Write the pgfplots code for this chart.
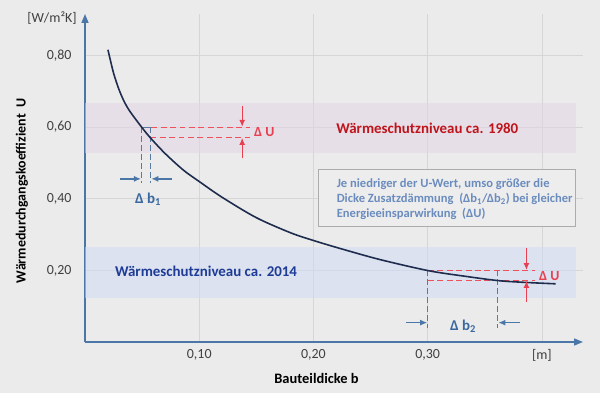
\documentclass[border=0pt]{standalone}
\usepackage{fontspec}
\setmainfont{Carlito}
\usepackage{pgfplots}
\pgfplotsset{compat=1.18}
\usetikzlibrary{arrows.meta}
\definecolor{bg}{RGB}{235,235,235}
\definecolor{pinkband}{RGB}{228,212,228}
\definecolor{blueband}{RGB}{206,218,246}
\definecolor{gridcol}{RGB}{214,214,214}
\definecolor{axiscol}{RGB}{74,118,168}
\definecolor{curvecol}{RGB}{30,44,78}
\definecolor{reddash}{RGB}{240,80,90}
\definecolor{redarr}{RGB}{232,64,80}
\definecolor{bluedash}{RGB}{90,122,160}
\definecolor{dbtext}{RGB}{58,104,160}
\definecolor{red1980}{RGB}{192,20,28}
\definecolor{blue2014}{RGB}{30,60,150}
\definecolor{boxtext}{RGB}{106,140,190}
\definecolor{boxborder}{RGB}{172,172,172}
\definecolor{ticktext}{RGB}{64,64,64}
\begin{document}
\begin{tikzpicture}
\fill[bg] (-85bp,-51bp) rectangle (515bp,342bp);
\begin{axis}[
  at={(0,0)}, anchor=south west,
  scale only axis, width=498bp, height=328bp,
  xmin=0, xmax=0.436, ymin=0, ymax=0.916,
  axis x line=bottom, axis y line=left,
  axis line style={axiscol, line width=1.5pt, -{Triangle[length=9pt,width=7pt]}},
  xtick={0.1,0.2,0.3,0.4}, xticklabels={{0,10},{0,20},{0,30},{[m]}},
  ytick={0.2,0.4,0.6,0.8}, yticklabels={{0,20},{0,40},{0,60},{0,80}},
  major tick length=0pt,
  tick style={draw=none},
  grid=major, grid style={gridcol, line width=0.7pt},
  ticklabel style={font=\fontsize{14}{16}\selectfont, text=ticktext},
  yticklabel style={xshift=-10bp},
  xticklabel style={yshift=-4bp},
  clip=false,
]
% bands
\addplot[fill=pinkband, fill opacity=0.5, draw=none] coordinates {(0,0.527) (0.43,0.527) (0.43,0.668) (0,0.668)} -- cycle;
\addplot[fill=blueband, fill opacity=0.5, draw=none] coordinates {(0,0.123) (0.43,0.123) (0.43,0.264) (0,0.264)} -- cycle;
% dashed helper lines top
\addplot[reddash, line width=1.2pt, dash pattern=on 6pt off 3.5pt] coordinates {(0.0496,0.6) (0.1444,0.6)};
\addplot[reddash, line width=1.2pt, dash pattern=on 6pt off 3.5pt] coordinates {(0.0570,0.571) (0.1444,0.571)};
\addplot[bluedash, line width=1.1pt, dash pattern=on 6pt off 3pt] coordinates {(0.0494,0.6) (0.0494,0.443)};
\addplot[bluedash, line width=1.1pt, dash pattern=on 6pt off 3pt] coordinates {(0.0577,0.6) (0.0577,0.443)};
\addplot[bluedash, line width=1.1pt] coordinates {(0.0494,0.6) (0.0577,0.6)};
% dashed helper lines bottom
\addplot[reddash, line width=1.2pt, dash pattern=on 6pt off 3.5pt] coordinates {(0.300,0.2) (0.3937,0.2)};
\addplot[reddash, line width=1.2pt, dash pattern=on 6pt off 3.5pt] coordinates {(0.300,0.1715) (0.3937,0.1715)};
\addplot[bluedash, line width=1.1pt, dash pattern=on 6pt off 3pt] coordinates {(0.300,0.2) (0.300,0.040)};
\addplot[bluedash, line width=1.1pt, dash pattern=on 6pt off 3pt] coordinates {(0.3615,0.2) (0.3615,0.040)};
% curve
\addplot[curvecol, line width=1.6pt, smooth] coordinates {
 (0.0201,0.816) (0.025,0.751) (0.030,0.703) (0.035,0.667) (0.040,0.641) (0.0496,0.600) (0.057,0.571)
 (0.070,0.5268) (0.086,0.4804) (0.100,0.4482) (0.120,0.4042) (0.150,0.3472) (0.180,0.305)
 (0.200,0.2835) (0.223,0.2615) (0.258,0.2304) (0.3003,0.1994) (0.330,0.1848) (0.3615,0.1715)
 (0.385,0.1665) (0.412,0.1625)};
% red arrows
\addplot[redarr, line width=1.2pt, -{Latex[length=7pt,width=6pt]}] coordinates {(0.1376,0.659) (0.1376,0.601)};
\addplot[redarr, line width=1.2pt, -{Latex[length=7pt,width=6pt]}] coordinates {(0.1376,0.513) (0.1376,0.570)};
\addplot[redarr, line width=1.2pt, -{Latex[length=7pt,width=6pt]}] coordinates {(0.3865,0.262) (0.3865,0.201)};
\addplot[redarr, line width=1.2pt, -{Latex[length=7pt,width=6pt]}] coordinates {(0.3865,0.113) (0.3865,0.1705)};
% blue arrows
\addplot[axiscol, line width=1.3pt, -{Latex[length=7pt,width=6pt]}] coordinates {(0.0306,0.4556) (0.0490,0.4556)};
\addplot[axiscol, line width=1.3pt, -{Latex[length=7pt,width=6pt]}] coordinates {(0.0758,0.4556) (0.0581,0.4556)};
\addplot[axiscol, line width=1.3pt, -{Latex[length=7pt,width=6pt]}] coordinates {(0.281,0.054) (0.2996,0.054)};
\addplot[axiscol, line width=1.3pt, -{Latex[length=7pt,width=6pt]}] coordinates {(0.3806,0.054) (0.3619,0.054)};
% texts
\node[anchor=west, inner sep=0pt, text=redarr, font=\fontsize{14}{16}\selectfont\bfseries] at (axis cs:0.148,0.585) {Δ U};
\node[anchor=west, inner sep=0pt, text=redarr, font=\fontsize{14}{16}\selectfont\bfseries] at (axis cs:0.3975,0.1846) {Δ U};
\node[inner sep=0pt, text=dbtext, font=\fontsize{15}{17}\selectfont\bfseries] at (axis cs:0.0552,0.399) {Δ b\textsubscript{1}};
\node[inner sep=0pt, text=dbtext, font=\fontsize{15}{17}\selectfont\bfseries] at (axis cs:0.331,0.045) {Δ b\textsubscript{2}};
\node[inner sep=0pt, text=red1980, font=\fontsize{15}{17}\selectfont\bfseries] at (axis cs:0.2997,0.597) {Wärmeschutzniveau ca. 1980};
\node[inner sep=0pt, text=blue2014, font=\fontsize{15}{17}\selectfont\bfseries] at (axis cs:0.106,0.197) {Wärmeschutzniveau ca. 2014};
\draw[boxborder, fill={rgb,255:red,237;green,237;blue,237}, line width=1.2pt] (axis cs:0.2047,0.3224) rectangle (axis cs:0.4297,0.4807);
\node[anchor=west, inner sep=0pt, align=left, text=boxtext, font=\fontsize{12.6}{15}\selectfont\bfseries] at (axis cs:0.2203,0.399)
 {Je niedriger der U-Wert, umso größer die\\Dicke Zusatzdämmung~ (Δb\textsubscript{1}/Δb\textsubscript{2}) bei gleicher\\Energieeinsparwirkung~ (ΔU)};
% axis descriptions
\node[inner sep=0pt, font=\fontsize{14}{16}\selectfont, text=ticktext] at (axis cs:-0.0289,0.905) {[W/m²K]};
\node[inner sep=0pt, rotate=90, font=\fontsize{14}{16}\selectfont\bfseries] at (axis cs:-0.0552,0.422) {Wärmedurchgangskoeffizient~ U};
\node[inner sep=0pt, font=\fontsize{14.5}{16}\selectfont\bfseries] at (axis cs:0.2027,-0.1006) {Bauteildicke b};
\end{axis}
\pgfresetboundingbox
\path[use as bounding box] (-85bp,-51bp) rectangle (515bp,342bp);
\end{tikzpicture}
\end{document}
